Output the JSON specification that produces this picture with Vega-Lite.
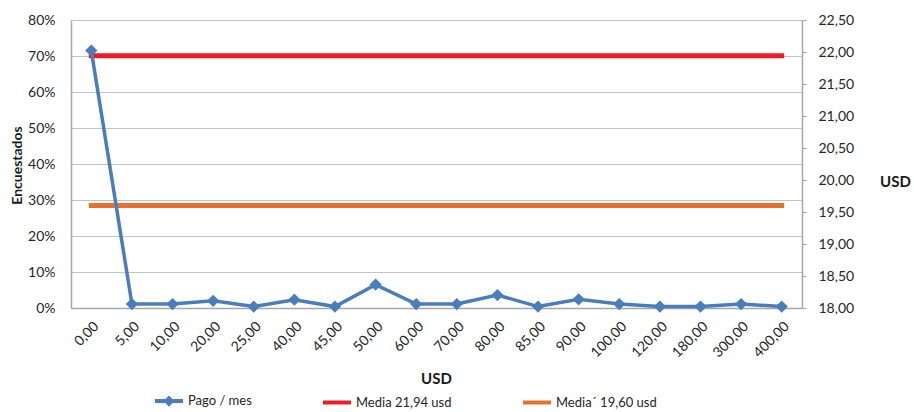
{
  "$schema": "https://vega.github.io/schema/vega-lite/v6.json",
  "width": 731,
  "height": 288,
  "autosize": {"type": "none"},
  "padding": {"left": 71, "top": 20, "right": 112, "bottom": 104},
  "background": "white",
  "config": {
    "locale": {"number": {"decimal": ",", "thousands": ".", "grouping": [3], "currency": ["", " €"]}},
    "font": "Lato",
    "view": {"stroke": null},
    "axis": {
      "labelFont": "Lato", "titleFont": "Lato",
      "labelColor": "#262626", "titleColor": "#1a1a1a",
      "domainColor": "#A6A6A6", "domainWidth": 1.5,
      "gridColor": "#C3C3C3", "gridWidth": 1,
      "tickColor": "#A6A6A6",
      "labelFontSize": 14
    },
    "legend": {"labelFont": "Lato", "labelFontSize": 13, "labelColor": "#262626"}
  },
  "datasets": {
    "pago": [
      {"usd": "0,00", "series": "Pago / mes", "value": 0.715},
      {"usd": "5,00", "series": "Pago / mes", "value": 0.011},
      {"usd": "10,00", "series": "Pago / mes", "value": 0.011},
      {"usd": "20,00", "series": "Pago / mes", "value": 0.02},
      {"usd": "25,00", "series": "Pago / mes", "value": 0.004},
      {"usd": "40,00", "series": "Pago / mes", "value": 0.023},
      {"usd": "45,00", "series": "Pago / mes", "value": 0.004},
      {"usd": "50,00", "series": "Pago / mes", "value": 0.065},
      {"usd": "60,00", "series": "Pago / mes", "value": 0.011},
      {"usd": "70,00", "series": "Pago / mes", "value": 0.011},
      {"usd": "80,00", "series": "Pago / mes", "value": 0.036},
      {"usd": "85,00", "series": "Pago / mes", "value": 0.004},
      {"usd": "90,00", "series": "Pago / mes", "value": 0.024},
      {"usd": "100,00", "series": "Pago / mes", "value": 0.011},
      {"usd": "120,00", "series": "Pago / mes", "value": 0.004},
      {"usd": "180,00", "series": "Pago / mes", "value": 0.004},
      {"usd": "300,00", "series": "Pago / mes", "value": 0.011},
      {"usd": "400,00", "series": "Pago / mes", "value": 0.004}
    ],
    "media": [
      {"usd": "0,00", "series": "Media 21,94 usd", "value": 21.94},
      {"usd": "5,00", "series": "Media 21,94 usd", "value": 21.94},
      {"usd": "10,00", "series": "Media 21,94 usd", "value": 21.94},
      {"usd": "20,00", "series": "Media 21,94 usd", "value": 21.94},
      {"usd": "25,00", "series": "Media 21,94 usd", "value": 21.94},
      {"usd": "40,00", "series": "Media 21,94 usd", "value": 21.94},
      {"usd": "45,00", "series": "Media 21,94 usd", "value": 21.94},
      {"usd": "50,00", "series": "Media 21,94 usd", "value": 21.94},
      {"usd": "60,00", "series": "Media 21,94 usd", "value": 21.94},
      {"usd": "70,00", "series": "Media 21,94 usd", "value": 21.94},
      {"usd": "80,00", "series": "Media 21,94 usd", "value": 21.94},
      {"usd": "85,00", "series": "Media 21,94 usd", "value": 21.94},
      {"usd": "90,00", "series": "Media 21,94 usd", "value": 21.94},
      {"usd": "100,00", "series": "Media 21,94 usd", "value": 21.94},
      {"usd": "120,00", "series": "Media 21,94 usd", "value": 21.94},
      {"usd": "180,00", "series": "Media 21,94 usd", "value": 21.94},
      {"usd": "300,00", "series": "Media 21,94 usd", "value": 21.94},
      {"usd": "400,00", "series": "Media 21,94 usd", "value": 21.94},
      {"usd": "0,00", "series": "Media´ 19,60 usd", "value": 19.6},
      {"usd": "5,00", "series": "Media´ 19,60 usd", "value": 19.6},
      {"usd": "10,00", "series": "Media´ 19,60 usd", "value": 19.6},
      {"usd": "20,00", "series": "Media´ 19,60 usd", "value": 19.6},
      {"usd": "25,00", "series": "Media´ 19,60 usd", "value": 19.6},
      {"usd": "40,00", "series": "Media´ 19,60 usd", "value": 19.6},
      {"usd": "45,00", "series": "Media´ 19,60 usd", "value": 19.6},
      {"usd": "50,00", "series": "Media´ 19,60 usd", "value": 19.6},
      {"usd": "60,00", "series": "Media´ 19,60 usd", "value": 19.6},
      {"usd": "70,00", "series": "Media´ 19,60 usd", "value": 19.6},
      {"usd": "80,00", "series": "Media´ 19,60 usd", "value": 19.6},
      {"usd": "85,00", "series": "Media´ 19,60 usd", "value": 19.6},
      {"usd": "90,00", "series": "Media´ 19,60 usd", "value": 19.6},
      {"usd": "100,00", "series": "Media´ 19,60 usd", "value": 19.6},
      {"usd": "120,00", "series": "Media´ 19,60 usd", "value": 19.6},
      {"usd": "180,00", "series": "Media´ 19,60 usd", "value": 19.6},
      {"usd": "300,00", "series": "Media´ 19,60 usd", "value": 19.6},
      {"usd": "400,00", "series": "Media´ 19,60 usd", "value": 19.6}
    ]
  },
  "layer": [
    {
      "data": {"name": "media"},
      "mark": {"type": "line", "strokeWidth": 5, "strokeCap": "square"},
      "encoding": {
        "x": {
          "field": "usd", "type": "nominal", "sort": null,
          "scale": {"domain": ["0,00","5,00","10,00","20,00","25,00","40,00","45,00","50,00","60,00","70,00","80,00","85,00","90,00","100,00","120,00","180,00","300,00","400,00"], "padding": 0.5},
          "axis": {
            "labelAngle": -45, "ticks": false, "labelPadding": 11,
            "title": "USD", "titleFontSize": 15, "titleFontWeight": "bold",
            "titleX": 365, "titleY": 70, "titleBaseline": "middle", "titleAlign": "center"
          }
        },
        "y": {
          "field": "value", "type": "quantitative",
          "scale": {"domain": [18, 22.5], "nice": false, "zero": false},
          "axis": {
            "orient": "right", "values": [18,18.5,19,19.5,20,20.5,21,21.5,22,22.5],
            "format": ".2f", "grid": false, "tickSize": 4, "labelPadding": 12,
            "labelFlush": false, "labelOverlap": false,
            "title": "USD", "titleAngle": 0, "titleX": 93, "titleY": 161,
            "titleAlign": "center", "titleBaseline": "middle",
            "titleFontSize": 15, "titleFontWeight": "bold"
          }
        },
        "color": {
          "field": "series", "type": "nominal",
          "scale": {"domain": ["Media 21,94 usd", "Media´ 19,60 usd"], "range": ["#EE1C25", "#E8702A"]},
          "legend": null
        }
      }
    },
    {
      "data": {"name": "pago"},
      "encoding": {
        "x": {"field": "usd", "type": "nominal", "sort": null},
        "y": {
          "field": "value", "type": "quantitative",
          "scale": {"domain": [0, 0.8], "nice": false},
          "axis": {
            "orient": "left", "values": [0,0.1,0.2,0.3,0.4,0.5,0.6,0.7,0.8],
            "format": ".0%", "grid": true, "ticks": false, "labelPadding": 16,
            "labelFlush": false, "labelOverlap": false,
            "title": "Encuestados", "titleFontSize": 14, "titleFontWeight": "bold",
            "titleX": -54, "titleY": 145, "titleAngle": -90,
            "titleAlign": "center", "titleBaseline": "middle"
          }
        }
      },
      "layer": [
        {"mark": {"type": "line", "color": "#4A7EBB", "strokeWidth": 3.5}},
        {"mark": {"type": "point", "shape": "diamond", "filled": true, "size": 150, "color": "#4A7EBB", "opacity": 1}},
        {
          "mark": {"type": "point", "opacity": 0, "filled": true, "size": 784, "strokeWidth": 4},
          "encoding": {
            "fill": {
              "field": "series", "type": "nominal",
              "scale": {"domain": ["Pago / mes", "Media 21,94 usd", "Media´ 19,60 usd"], "range": ["#4A7EBB", "#EE1C25", "#E8702A"]},
              "legend": {"orient": "none", "legendX": 82, "legendY": 365, "direction": "horizontal", "title": null, "columnPadding": 63, "labelOffset": 3, "symbolSize": 784, "symbolStrokeWidth": 4, "symbolOpacity": 1, "padding": 0}
            },
            "stroke": {
              "field": "series", "type": "nominal",
              "scale": {"domain": ["Pago / mes", "Media 21,94 usd", "Media´ 19,60 usd"], "range": ["#4A7EBB", "#EE1C25", "#E8702A"]},
              "legend": {"orient": "none", "legendX": 82, "legendY": 365, "direction": "horizontal", "title": null, "columnPadding": 63, "labelOffset": 3, "symbolSize": 784, "symbolStrokeWidth": 4, "symbolOpacity": 1, "padding": 0}
            },
            "shape": {
              "field": "series", "type": "nominal",
              "scale": {"domain": ["Pago / mes", "Media 21,94 usd", "Media´ 19,60 usd"], "range": ["M-1,0H1M0,-0.2L0.2,0L0,0.2L-0.2,0Z", "M-1,0H1", "M-1,0H1"]},
              "legend": {"orient": "none", "legendX": 82, "legendY": 365, "direction": "horizontal", "title": null, "columnPadding": 63, "labelOffset": 3, "symbolSize": 784, "symbolStrokeWidth": 4, "symbolOpacity": 1, "padding": 0}
            }
          }
        }
      ]
    }
  ],
  "resolve": {"scale": {"y": "independent"}}
}
